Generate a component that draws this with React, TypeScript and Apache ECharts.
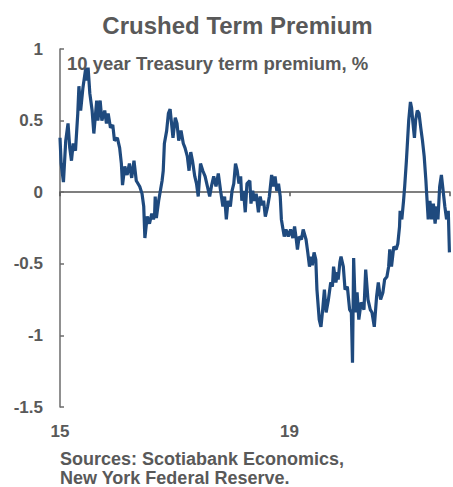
import React, { useEffect, useRef } from "react";
import * as echarts from "echarts";

const titleText = "Crushed Term Premium";
const subtitleText = "10 year Treasury term premium, %";
const sourceLines = ["Sources: Scotiabank Economics,", "New York Federal Reserve."];
const xTickLabels = [15, 19];

const years = [
  15.0, 15.02, 15.06, 15.1, 15.14, 15.17, 15.2, 15.23, 15.27, 15.31, 15.33, 15.36, 15.4, 15.45, 15.47, 15.49,
  15.52, 15.56, 15.59, 15.64, 15.66, 15.7, 15.73, 15.78, 15.81, 15.84, 15.88, 15.92, 15.95, 16.0, 16.04, 16.07,
  16.09, 16.13, 16.17, 16.21, 16.25, 16.29, 16.33, 16.39, 16.43, 16.46, 16.48, 16.52, 16.56, 16.6, 16.63,
  16.65, 16.66, 16.68, 16.72, 16.75, 16.78, 16.8, 16.82, 16.86, 16.89, 16.92, 16.94, 16.97, 17.01, 17.04, 17.07,
  17.11, 17.15, 17.18, 17.22, 17.25, 17.28, 17.31, 17.35, 17.38, 17.41, 17.45, 17.49, 17.53, 17.57, 17.61, 17.64,
  17.68, 17.72, 17.76, 17.8, 17.84, 17.87, 17.9, 17.93, 17.97, 18.0, 18.03, 18.06, 18.09, 18.12, 18.15, 18.17, 18.2,
  18.23, 18.26, 18.31, 18.33, 18.36, 18.39, 18.42, 18.46, 18.49, 18.52, 18.55, 18.58, 18.62, 18.65, 18.69, 18.72,
  18.75, 18.78, 18.81, 18.84, 18.86, 18.88, 18.91, 18.94, 18.98, 19.02, 19.06, 19.09, 19.12, 19.14, 19.17, 19.21,
  19.24, 19.29, 19.32, 19.35, 19.38, 19.4, 19.43, 19.46, 19.48, 19.52, 19.55, 19.58, 19.61, 19.64, 19.68, 19.72,
  19.75, 19.77, 19.81, 19.84,
  19.85, 19.88, 19.9, 19.94, 19.97, 20.01, 20.05, 20.08, 20.1, 20.12, 20.15, 20.18, 20.21, 20.25, 20.3, 20.33,
  20.37, 20.41, 20.44, 20.48, 20.52, 20.55, 20.59, 20.63, 20.66, 20.7, 20.73, 20.75, 20.78, 20.82, 20.86, 20.89,
  20.92, 20.93, 20.96, 20.99, 21.01, 21.04, 21.06, 21.08, 21.11, 21.13, 21.15, 21.18, 21.2, 21.23, 21.26, 21.29,
  21.32, 21.35, 21.38, 21.39, 21.42, 21.45, 21.48, 21.51, 21.54, 21.57, 21.59, 21.62, 21.65, 21.68, 21.71, 21.74,
  21.77, 21.79,
];

const premium = [
  0.38, 0.2, 0.07, 0.36, 0.48, 0.31, 0.22, 0.34, 0.29, 0.55, 0.74, 0.57, 0.73, 0.87, 0.78, 0.87,
  0.69, 0.57, 0.41, 0.64, 0.5, 0.64, 0.5, 0.57, 0.48, 0.55, 0.45, 0.47, 0.36, 0.38, 0.31, 0.2,
  0.05, 0.18, 0.12, 0.2, 0.1, 0.22, 0.08, 0.04, -0.01, -0.1, -0.32, -0.17, -0.22, -0.15, -0.19,
  -0.15, -0.03, -0.18, -0.06, 0.01, 0.08, 0.15, 0.34, 0.43, 0.55, 0.58, 0.5, 0.38, 0.52, 0.48, 0.36,
  0.43, 0.34, 0.31, 0.25, 0.15, 0.28, 0.22, 0.11, 0.06, -0.03, 0.2, 0.15, 0.11, 0.04, -0.03, 0.04,
  0.11, 0.04, 0.13, 0.01, -0.1, -0.03, -0.19, -0.06, -0.1, 0.01, 0.06, 0.2, 0.15, 0.06, 0.11, -0.06, 0.01,
  -0.14, 0.06, 0.08, -0.08, 0.01, -0.06, -0.01, -0.14, -0.03, -0.09, -0.06, -0.17, -0.1, -0.03, 0.12, 0.04,
  0.11, 0.01, 0.06, -0.03, -0.19, -0.24, -0.31, -0.26, -0.31, -0.26, -0.32, -0.24, -0.33, -0.4, -0.31, -0.33,
  -0.26, -0.33, -0.42, -0.52, -0.45, -0.51, -0.42, -0.47, -0.68, -0.89, -0.94, -0.82, -0.68, -0.84, -0.75, -0.63,
  -0.66, -0.52, -0.63, -0.56,
  -0.61, -0.49, -0.45, -0.52, -0.68, -0.66, -0.82, -0.84, -1.19, -0.46, -0.84, -0.7, -0.89, -0.77, -0.82, -0.54,
  -0.75, -0.82, -0.84, -0.94, -0.73, -0.63, -0.75, -0.7, -0.61, -0.59, -0.52, -0.4, -0.52, -0.38, -0.4, -0.36,
  -0.24, -0.13, -0.19, -0.06, 0.04, 0.22, 0.36, 0.5, 0.63, 0.59, 0.5, 0.38, 0.5, 0.57, 0.55, 0.45,
  0.36, 0.25, 0.08, 0.01, -0.19, -0.06, -0.19, -0.08, -0.22, -0.1, -0.19, 0.04, 0.12, 0.01, -0.1, -0.19,
  -0.13, -0.42,
];

const TEXT = "#595959";
const AXIS = "#6b6b6b";
const FONT = "'Liberation Sans', Arial, sans-serif";

export default function App() {
  const ref = useRef<HTMLDivElement>(null);

  useEffect(() => {
    document.body.style.margin = "0";
    if (!ref.current) return;
    const chart = echarts.init(ref.current, null, { renderer: "svg" });
    const data = years.map((y, i) => [y, premium[i]]);
    const xMin = 15;
    const xMax = 21.8;
    chart.setOption({
      animation: false,
      backgroundColor: "#ffffff",
      grid: { left: 60, right: 0, top: 49, bottom: 80, containLabel: false },
      xAxis: [
        {
          type: "value",
          min: xMin,
          max: xMax,
          interval: 4,
          axisLine: { show: true, onZero: true, lineStyle: { color: "#555555", width: 1.5 } },
          axisTick: { show: true, inside: false, length: 4, lineStyle: { color: "#555555", width: 1.5 } },
          axisLabel: { show: false },
          splitLine: { show: false },
        },
        {
          type: "value",
          position: "bottom",
          min: xMin,
          max: xMax,
          interval: 4,
          axisLine: { show: false, onZero: false },
          axisTick: { show: false },
          splitLine: { show: false },
          axisLabel: {
            show: true,
            margin: 16,
            color: TEXT,
            fontFamily: FONT,
            fontWeight: "bold",
            fontSize: 17,
            formatter: (v: number) => (xTickLabels.indexOf(Math.round(v * 100) / 100) >= 0 ? String(v) : ""),
          },
        },
      ],
      yAxis: {
        type: "value",
        min: -1.5,
        max: 1,
        interval: 0.5,
        axisLine: { show: true, onZero: false, lineStyle: { color: AXIS, width: 1.5 } },
        axisTick: { show: true, inside: true, length: 4, lineStyle: { color: AXIS, width: 1.5 } },
        axisLabel: {
          margin: 17,
          color: TEXT,
          fontFamily: FONT,
          fontWeight: "bold",
          fontSize: 17,
        },
        splitLine: { show: false },
      },
      series: [
        {
          type: "line",
          xAxisIndex: 0,
          data,
          showSymbol: false,
          symbol: "none",
          lineStyle: { color: "#1f4a7e", width: 3.2 },
          z: 3,
        },
      ],
      graphic: [
        {
          type: "text",
          x: 237.5,
          y: 25.5,
          style: {
            text: titleText,
            fill: TEXT,
            font: `bold 24px ${FONT}`,
            textAlign: "center",
            textVerticalAlign: "middle",
          },
        },
        {
          type: "text",
          x: 67,
          y: 63.5,
          z: 10,
          style: {
            text: subtitleText,
            fill: TEXT,
            font: `bold 18.5px ${FONT}`,
            textAlign: "left",
            textVerticalAlign: "middle",
          },
        },
        ...sourceLines.map((line, i) => ({
          type: "text",
          x: 60,
          y: 458.5 + i * 19,
          style: {
            text: line,
            fill: TEXT,
            font: `bold 18px ${FONT}`,
            textAlign: "left",
            textVerticalAlign: "middle",
          },
        })),
      ],
    });
    return () => chart.dispose();
  }, []);

  return <div ref={ref} style={{ width: 453, height: 487 }} />;
}
